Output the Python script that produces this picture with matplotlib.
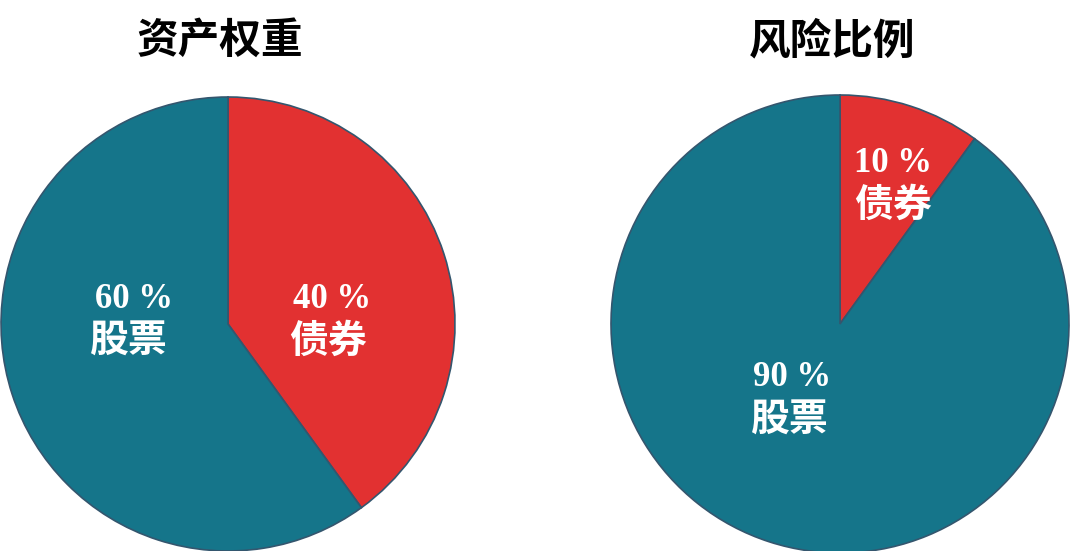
import matplotlib.pyplot as plt

# data
titles = ['资产权重', '风险比例']
categories = ['债券', '股票']
asset_weights = [40, 60]
risk_shares = [10, 90]
colors = ['#E23131', '#15758A']

plt.rcParams['font.family'] = ['Noto Sans CJK SC', 'DejaVu Sans']

fig = plt.figure(figsize=(10.71, 5.51), dpi=100)
ax = fig.add_axes([0, 0, 1, 1])

# pixel layout of the two pies (y measured from bottom)
centers = [(228, 227), (840, 227)]
radii = [227, 229]
series = [asset_weights, risk_shares]

# label spots: (number xy, name xy) for each slice
label_spots = [
    [((332, 252), (328, 210)), ((134, 252), (129, 210))],
    [((893, 387), (893, 346)), ((792, 173), (790, 131))],
]

for i, vals in enumerate(series):
    ax.pie(vals, colors=colors, startangle=90, counterclock=False,
           center=centers[i], radius=radii[i], frame=True,
           wedgeprops=dict(edgecolor='#34566e', linewidth=1.2))
    ax.text(centers[i][0] - 8, 510, titles[i], ha='center', va='center',
            fontsize=30, fontweight='bold', color='black')
    for j, v in enumerate(vals):
        (nx, ny), (cx, cy) = label_spots[i][j]
        ax.text(nx, ny, f'{v} %', ha='center', va='center', fontsize=25,
                fontweight='bold', color='white',
                family=['Liberation Serif', 'DejaVu Serif'])
        ax.text(cx, cy, categories[j], ha='center', va='center', fontsize=28,
                fontweight='bold', color='white')

ax.set_xlim(0, 1071)
ax.set_ylim(0, 551)
ax.set_aspect('equal')
ax.axis('off')
fig.savefig('out.png', dpi=100)
